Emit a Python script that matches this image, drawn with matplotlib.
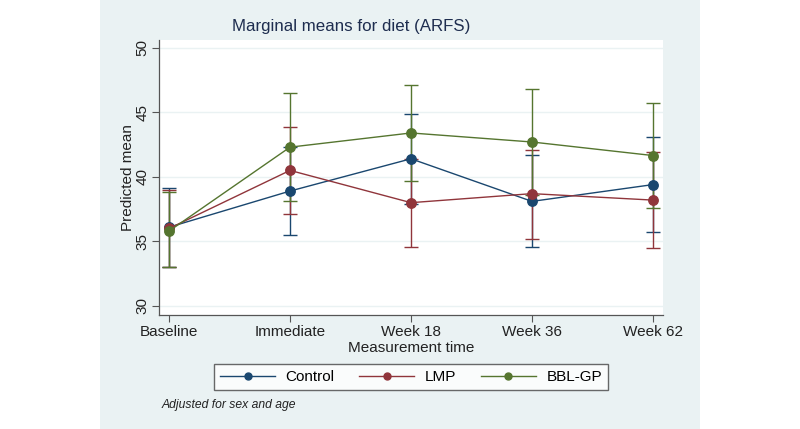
import numpy as np
import matplotlib.pyplot as plt
from matplotlib.patches import Rectangle

plt.rcParams['font.family'] = ['Liberation Sans', 'DejaVu Sans']

times = ['Baseline', 'Immediate', 'Week 18', 'Week 36', 'Week 62']
groups = ['Control', 'LMP', 'BBL-GP']

# predicted means and 95% CI
control_mean = [36.1, 38.9, 41.4, 38.1, 39.4]
control_lo = [33.0, 35.5, 37.9, 34.6, 35.7]
control_hi = [39.1, 42.3, 44.9, 41.7, 43.05]

lmp_mean = [36.0, 40.5, 38.0, 38.7, 38.2]
lmp_lo = [33.0, 37.1, 34.6, 35.2, 34.5]
lmp_hi = [39.0, 43.9, 41.4, 42.1, 41.9]

bbl_mean = [35.8, 42.3, 43.4, 42.7, 41.65]
bbl_lo = [33.0, 38.1, 39.7, 38.6, 37.6]
bbl_hi = [38.8, 46.5, 47.1, 46.8, 45.7]

means = [control_mean, lmp_mean, bbl_mean]
los = [control_lo, lmp_lo, bbl_lo]
his = [control_hi, lmp_hi, bbl_hi]
colors = ['#1a476f', '#90353b', '#55752f']

fig = plt.figure(figsize=(8, 4.29), dpi=100)
fig.patch.set_facecolor('white')
# Stata graph region
fig.patches.append(Rectangle((100 / 800, 0), 600 / 800, 1, transform=fig.transFigure,
                             facecolor='#eaf2f3', edgecolor='none', zorder=-5))

ax = fig.add_axes([159 / 800, 114 / 429, 504 / 800, 275 / 429])
ax.set_facecolor('white')

x = np.arange(len(times))
for m, lo, hi, c, g in zip(means, los, his, colors, groups):
    m = np.array(m)
    yerr = [m - np.array(lo), np.array(hi) - m]
    ax.errorbar(x, m, yerr=yerr, fmt='none', ecolor=c, elinewidth=1.0,
                capsize=5, capthick=1.0, zorder=2)
    ax.plot(x, m, color=c, lw=1.0, marker='o', ms=6.8, label=g, zorder=3)

ax.set_xlim(-0.083, 4.083)
ax.set_ylim(29.3, 50.6)
ax.set_yticks([30, 35, 40, 45, 50])
ax.set_xticks(x)
ax.set_xticklabels(times, fontsize=11, color='#222222')
for lab in ax.get_yticklabels():
    lab.set_rotation(90)
    lab.set_va('center')
    lab.set_fontsize(11)
    lab.set_color('#222222')
ax.grid(axis='y', color='#eaf2f3', lw=1.0)
ax.set_axisbelow(True)
ax.tick_params(direction='out', length=5, color='#555555', width=0.8, pad=2)
for s in ['top', 'right']:
    ax.spines[s].set_visible(False)
for s in ['left', 'bottom']:
    ax.spines[s].set_color('#555555')
    ax.spines[s].set_linewidth(0.9)

ax.set_ylabel('Predicted mean', fontsize=11, color='#222222', labelpad=0)
ax.set_xlabel('Measurement time', fontsize=11, color='#222222', labelpad=2)
fig.text(351 / 800, 1 - 27 / 429, 'Marginal means for diet (ARFS)',
         ha='center', va='center', fontsize=12.2, color='#1e2d4f')

leg = ax.legend(loc='center', bbox_to_anchor=(411 / 800, 52 / 429), bbox_transform=fig.transFigure,
                ncol=3, frameon=True, fontsize=11, handlelength=3.6, columnspacing=1.6,
                fancybox=False, edgecolor='#444444', borderpad=0.4, handletextpad=0.7)
leg.get_frame().set_linewidth(1.0)
for h in leg.legend_handles:
    h.set_markersize(5)

fig.text(162 / 800, 1 - 405 / 429, 'Adjusted for sex and age', fontsize=8.7, style='italic',
         color='#222222', va='center')

fig.savefig('out.png', dpi=100)
